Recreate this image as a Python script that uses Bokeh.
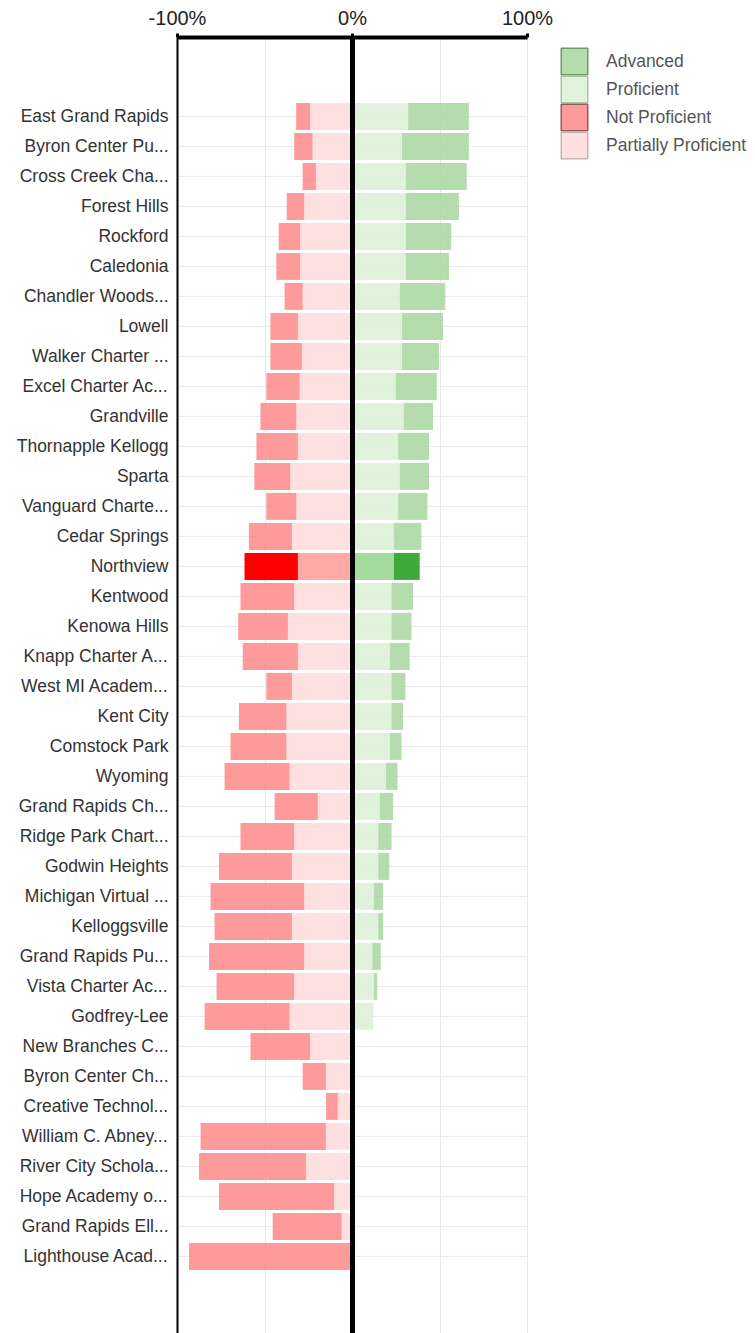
import numpy as np
from bokeh.plotting import figure
from bokeh.models import (ColumnDataSource, Range1d, FixedTicker, PrintfTickFormatter,
                          Span, Legend, LegendItem, BoxAnnotation)
from bokeh.embed import file_html
from bokeh.resources import INLINE

schools = [
    "East Grand Rapids", "Byron Center Pu...", "Cross Creek Cha...", "Forest Hills",
    "Rockford", "Caledonia", "Chandler Woods...", "Lowell", "Walker Charter ...",
    "Excel Charter Ac...", "Grandville", "Thornapple Kellogg", "Sparta",
    "Vanguard Charte...", "Cedar Springs", "Northview", "Kentwood", "Kenowa Hills",
    "Knapp Charter A...", "West MI Academ...", "Kent City", "Comstock Park", "Wyoming",
    "Grand Rapids Ch...", "Ridge Park Chart...", "Godwin Heights", "Michigan Virtual ...",
    "Kelloggsville", "Grand Rapids Pu...", "Vista Charter Ac...", "Godfrey-Lee",
    "New Branches C...", "Byron Center Ch...", "Creative Technol...", "William C. Abney...",
    "River City Schola...", "Hope Academy o...", "Grand Rapids Ell...", "Lighthouse Acad...",
]
partially_proficient = [24.2, 22.8, 20.9, 27.6, 29.9, 29.9, 28.5, 31.2, 28.9, 30.2,
                        32.1, 31.2, 35.6, 32.1, 34.6, 31.2, 33.3, 36.9, 31.2, 34.6,
                        37.8, 37.8, 35.9, 19.8, 33.3, 34.6, 27.6, 34.6, 27.6, 33.3,
                        35.9, 24.2, 15.2, 8.4, 15.2, 26.6, 10.5, 6.2, 0.0]
not_proficient = [8.0, 10.5, 7.6, 10.0, 12.3, 13.6, 10.3, 15.7, 18.0, 19.0,
                  20.5, 23.7, 20.5, 17.1, 24.6, 30.5, 30.7, 28.4, 31.5, 14.6,
                  27.1, 31.9, 37.2, 24.7, 30.7, 41.7, 53.5, 44.2, 54.4, 44.4,
                  48.6, 34.1, 13.3, 6.7, 71.6, 61.1, 65.8, 39.4, 93.4]
proficient = [31.8, 28.3, 30.4, 30.4, 30.4, 30.4, 27.0, 28.3, 28.3, 24.7,
              29.3, 26.1, 27.0, 26.1, 23.6, 23.6, 22.3, 22.3, 21.3, 22.3,
              22.3, 21.3, 19.1, 15.6, 14.7, 14.7, 12.2, 14.7, 11.3, 12.2,
              11.9, 0, 0, 0, 0, 0, 0, 0, 0]
advanced = [34.7, 38.2, 34.9, 30.4, 26.0, 24.7, 26.0, 23.4, 21.1, 23.5,
            16.7, 17.6, 16.7, 16.7, 15.7, 14.8, 12.3, 11.4, 11.4, 7.9,
            6.6, 6.7, 6.6, 7.6, 7.6, 6.3, 5.3, 2.8, 4.9, 1.9,
            0, 0, 0, 0, 0, 0, 0, 0, 0]
highlight = "Northview"
x_ticks = [-100, 0, 100]
x_grid = [-100, -50, 0, 50, 100]
legend_labels = ["Advanced", "Proficient", "Not Proficient", "Partially Proficient"]

n = len(schools)
ys = list(range(n))
pp = np.array(partially_proficient)
npf = np.array(not_proficient)
pr = np.array(proficient)
ad = np.array(advanced)
hl = [s == highlight for s in schools]

def pick(normal, hi):
    return [hi if h else normal for h in hl]

src = ColumnDataSource(dict(
    y=ys,
    zero=[0.0] * n,
    pp_left=(-pp).tolist(),
    np_left=(-(pp + npf)).tolist(),
    pr_right=pr.tolist(),
    ad_right=(pr + ad).tolist(),
    c_pp=pick("#ffdbdb", "#ffaaa6"),
    c_np=pick("#ff8888", "#ff0000"),
    c_pr=pick("#dbf0d6", "#a6dba0"),
    c_ad=pick("#a7d69d", "#3fa93b"),
    a=pick(0.85, 1.0),
))

FONT = "Liberation Sans"
LEFT, TOP = 177, 37           # frame offsets in the canvas
FW = 575                      # frame width in px; 350 px span the -100..100 axis
FH = 1296
x_end = x_ticks[0] + (x_ticks[-1] - x_ticks[0]) * FW / 350.0
p = figure(frame_width=FW, frame_height=FH,
           x_range=Range1d(x_ticks[0], x_end), y_range=Range1d(n - 1 + 2.57, -2.63),
           x_axis_location="above", output_backend="svg", toolbar_location=None,
           min_border_left=LEFT, min_border_top=TOP, min_border_right=0,
           min_border_bottom=0, outline_line_color=None)

# horizontal grid lines, limited to the -100..100 span
p.segment(x0=[x_ticks[0]] * n, x1=[x_ticks[-1]] * n, y0=ys, y1=ys,
          line_color="#e8e8e8", line_width=1, level="underlay")

H = 0.9
p.hbar(y="y", left="pp_left", right="zero", height=H, source=src,
       fill_color="c_pp", fill_alpha="a", line_color=None)
p.hbar(y="y", left="np_left", right="pp_left", height=H, source=src,
       fill_color="c_np", fill_alpha="a", line_color=None)
p.hbar(y="y", left="zero", right="pr_right", height=H, source=src,
       fill_color="c_pr", fill_alpha="a", line_color=None)
p.hbar(y="y", left="pr_right", right="ad_right", height=H, source=src,
       fill_color="c_ad", fill_alpha="a", line_color=None)

# grids
p.xgrid.ticker = FixedTicker(ticks=x_grid)
p.xgrid.grid_line_color = "#e8e8e8"
p.ygrid.grid_line_color = None

# top axis
xa = p.xaxis[0]
xa.ticker = FixedTicker(ticks=x_ticks)
xa.formatter = PrintfTickFormatter(format="%d%%")
xa.bounds = (x_ticks[0], x_ticks[-1])
xa.axis_line_width = 4
xa.axis_line_color = "black"
xa.major_tick_out = 4
xa.major_tick_in = 0
xa.major_tick_line_width = 3
xa.minor_tick_line_color = None
xa.major_label_text_font = FONT
xa.major_label_text_font_size = "20px"
xa.major_label_text_color = "#222222"
xa.major_label_standoff = 5

# left axis
ya = p.yaxis[0]
ya.ticker = FixedTicker(ticks=ys)
ya.major_label_overrides = {i: s for i, s in enumerate(schools)}
ya.axis_line_width = 2
ya.axis_line_color = "black"
ya.major_tick_line_color = None
ya.major_tick_out = 0
ya.minor_tick_line_color = None
ya.major_label_standoff = 9
ya.major_label_text_font = FONT
ya.major_label_text_font_size = "17.5px"
ya.major_label_text_color = "#333333"

p.add_layout(Span(location=0, dimension="height", line_color="black", line_width=5))

# legend: text from a Legend, full-size contiguous swatches as boxes
styles = [("#b4dcac", "#6f9a68"), ("#e0f2dc", "#a9c3a4"),
          ("#ff9a9a", "#8f5c5c"), ("#ffe0e0", "#c4b4b4")]
G = 28
LX, LY = 383, 10              # legend offset from frame's top-left
items = []
for i, (label, (fc, lc)) in enumerate(zip(legend_labels, styles)):
    r = p.hbar(y=[np.nan], left=[np.nan], right=[np.nan], height=1,
               fill_alpha=0, line_alpha=0)
    items.append(LegendItem(label=label, renderers=[r], index=0))
    p.add_layout(BoxAnnotation(left=LEFT + LX + 0.75, right=LEFT + LX + G - 0.75,
                               top=TOP + LY + i * G + 0.75, bottom=TOP + LY + (i + 1) * G - 0.75,
                               left_units="canvas", right_units="canvas",
                               top_units="canvas", bottom_units="canvas",
                               fill_color=fc, fill_alpha=1.0,
                               line_color=lc, line_width=1.5, line_alpha=1.0))
legend = Legend(items=items, location=(LX, FH - LY - 4 * G), glyph_width=G, glyph_height=G,
                label_height=G, spacing=0, padding=0, margin=0, label_standoff=18,
                border_line_alpha=0, background_fill_alpha=0,
                label_text_font=FONT, label_text_font_size="17.5px",
                label_text_color="#555555")
p.add_layout(legend, "center")

open("out.html", "w").write(file_html(p, INLINE))
